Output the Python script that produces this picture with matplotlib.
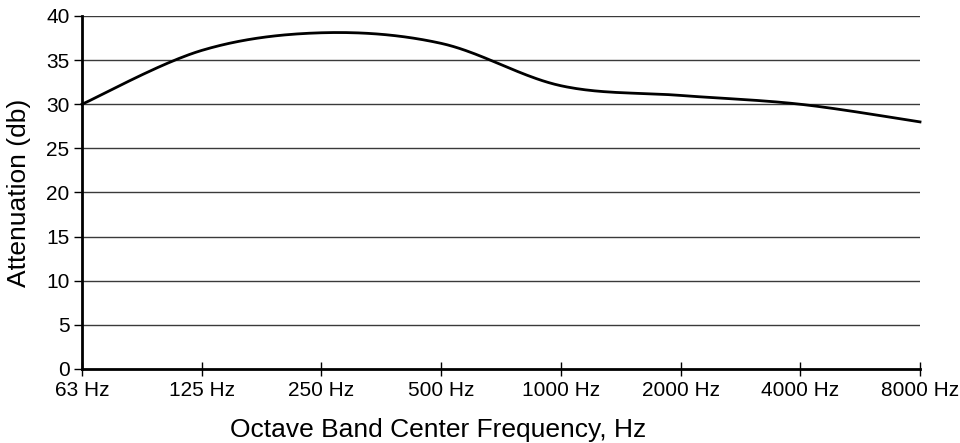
import numpy as np
import matplotlib
matplotlib.use('Agg')
import matplotlib.pyplot as plt

# Octave band centre frequencies and attenuation values
bands = ['63 Hz', '125 Hz', '250 Hz', '500 Hz',
         '1000 Hz', '2000 Hz', '4000 Hz', '8000 Hz']
attenuation = [30.0, 36.1, 38.1, 36.9, 32.1, 31.0, 30.0, 28.0]


def smooth_curve(ys, n=40):
    # Bezier smoothing through the points, like a spreadsheet "smoothed line"
    ys = np.asarray(ys, dtype=float)
    xs = np.arange(len(ys), dtype=float)
    px = np.concatenate([[xs[0]], xs, [xs[-1]]])
    py = np.concatenate([[ys[0]], ys, [ys[-1]]])
    out_x, out_y = [], []
    t = np.linspace(0, 1, n)
    for i in range(1, len(px) - 2):
        p0 = np.array([px[i], py[i]])
        p3 = np.array([px[i + 1], py[i + 1]])
        c1 = p0 + (np.array([px[i + 1], py[i + 1]]) - np.array([px[i - 1], py[i - 1]])) / 6
        c2 = p3 - (np.array([px[i + 2], py[i + 2]]) - np.array([px[i], py[i]])) / 6
        pts = (((1 - t) ** 3)[:, None] * p0 + (3 * (1 - t) ** 2 * t)[:, None] * c1
               + (3 * (1 - t) * t ** 2)[:, None] * c2 + (t ** 3)[:, None] * p3)
        out_x.extend(pts[:, 0])
        out_y.extend(pts[:, 1])
    return np.array(out_x), np.array(out_y)


plt.rcParams['font.family'] = ['Liberation Sans', 'DejaVu Sans']

fig = plt.figure(figsize=(9.6, 4.43), dpi=100)
ax = fig.add_axes([82 / 960, 1 - 369 / 443, 838 / 960, 353 / 443])

# Horizontal gridlines
for yv in range(5, 45, 5):
    ax.axhline(yv, color='#3a3a3a', linewidth=1.0, zorder=1)

sx, sy = smooth_curve(attenuation)
ax.plot(sx, sy, color='black', linewidth=2.0, zorder=3, clip_on=False)

ax.set_xlim(0, len(bands) - 1)
ax.set_ylim(0, 40)
ax.set_yticks(range(0, 45, 5))
ax.set_xticks(range(len(bands)))
ax.set_xticklabels(bands)

for side in ['top', 'right']:
    ax.spines[side].set_visible(False)
for side in ['left', 'bottom']:
    ax.spines[side].set_linewidth(2.0)
    ax.spines[side].set_color('black')

ax.tick_params(axis='y', direction='out', length=6, width=1, labelsize=15, pad=3)
ax.tick_params(axis='x', direction='inout', length=10, width=1, labelsize=15, pad=4)

ax.set_ylabel('Attenuation (db)', fontsize=19)
ax.set_xlabel('Octave Band Center Frequency, Hz', fontsize=19)
ax.yaxis.set_label_coords(-0.061, 0.5)
ax.xaxis.set_label_coords(0.425, -0.14)

fig.savefig('out.png', dpi=100, facecolor='white')
